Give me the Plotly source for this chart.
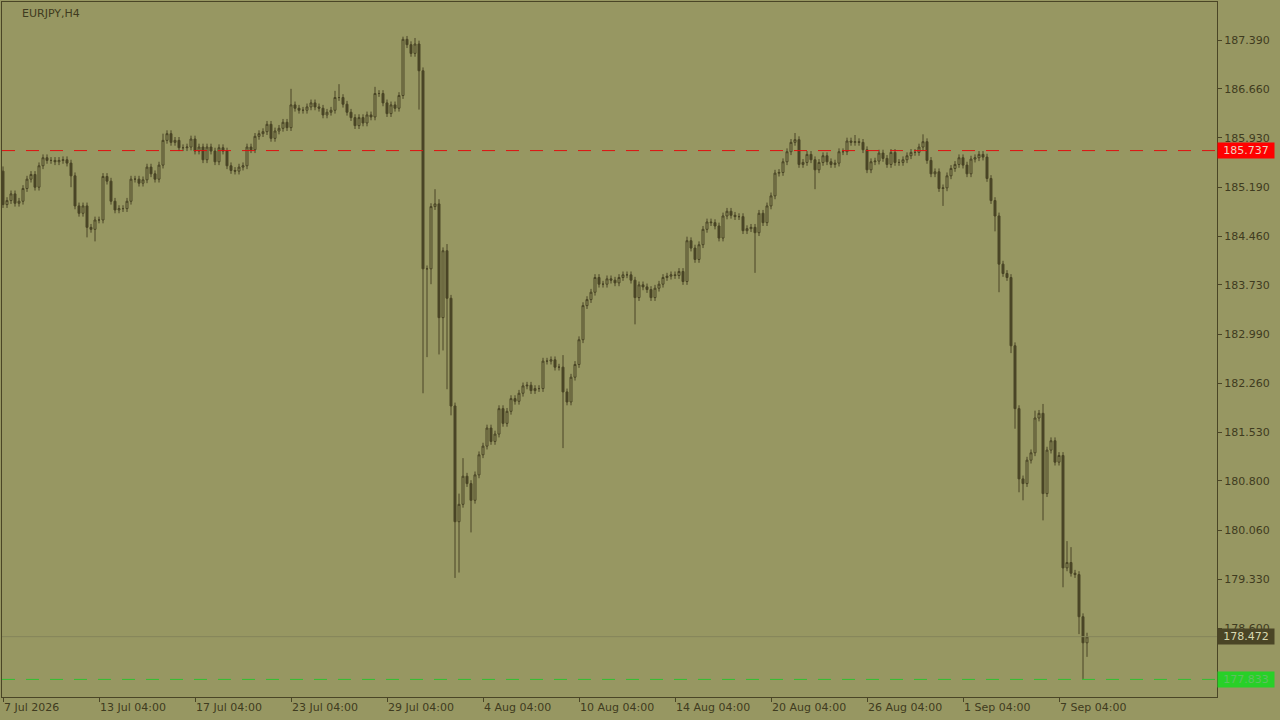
import plotly.graph_objects as go

symbol = "EURJPY,H4"
first_open = 185.43
closes = [
 184.93,184.99,185.09,184.95,184.98,185.17,185.31,185.38,185.19,185.51,
 185.63,185.59,185.59,185.57,185.59,185.60,185.55,185.36,184.91,184.80,
 184.91,184.59,184.56,184.70,184.70,185.35,185.28,184.98,184.85,184.87,
 184.87,184.98,185.31,185.31,185.25,185.30,185.49,185.39,185.31,185.52,
 185.89,185.99,185.86,185.89,185.78,185.78,185.79,185.91,185.73,185.79,
 185.60,185.79,185.73,185.57,185.78,185.73,185.51,185.44,185.43,185.49,
 185.51,185.79,185.75,185.95,185.99,186.02,186.13,185.92,186.03,186.07,
 186.16,186.08,186.42,186.37,186.34,186.34,186.39,186.45,186.39,186.37,
 186.27,186.31,186.34,186.53,186.53,186.43,186.31,186.23,186.11,186.23,
 186.15,186.27,186.24,186.59,186.59,186.45,186.29,186.42,186.37,186.56,
 187.40,187.32,187.19,187.33,186.93,183.97,183.97,184.90,184.94,183.24,
 184.24,183.53,181.92,180.19,180.45,180.87,180.76,180.51,180.89,181.19,
 181.32,181.59,181.39,181.50,181.88,181.66,181.84,182.03,181.99,182.11,
 182.22,182.23,182.15,182.18,182.18,182.59,182.59,182.61,182.50,182.50,
 182.13,181.98,182.35,182.54,182.91,183.42,183.51,183.62,183.84,183.74,
 183.74,183.82,183.80,183.76,183.84,183.88,183.88,183.80,183.54,183.73,
 183.70,183.66,183.54,183.68,183.74,183.84,183.86,183.88,183.87,183.93,
 183.78,184.39,184.28,184.11,184.33,184.56,184.67,184.66,184.61,184.43,
 184.76,184.83,184.77,184.75,184.75,184.54,184.57,184.59,184.51,184.80,
 184.66,184.91,185.06,185.40,185.41,185.57,185.72,185.86,185.90,185.53,
 185.56,185.68,185.60,185.45,185.56,185.66,185.57,185.53,185.55,185.72,
 185.72,185.88,185.86,185.87,185.86,185.75,185.45,185.57,185.58,185.70,
 185.62,185.53,185.71,185.56,185.56,185.60,185.66,185.71,185.71,185.79,
 185.87,185.59,185.39,185.42,185.17,185.18,185.36,185.47,185.53,185.63,
 185.52,185.39,185.61,185.63,185.68,185.64,185.32,184.99,184.76,184.04,
 183.90,183.84,182.82,181.88,180.83,180.76,181.11,181.22,181.74,181.81,
 180.61,181.26,181.40,181.08,181.18,179.50,179.58,179.42,179.40,178.77,
 178.38,178.47,
]
wick_highs = {0: 185.50, 40: 185.99, 72: 186.66, 83: 186.63, 84: 186.73, 93: 186.69,
              100: 187.44, 103: 187.42, 108: 185.16, 109: 185.01, 111: 184.34,
              114: 180.61, 115: 181.14, 140: 182.68, 171: 184.45, 198: 186.00,
              213: 185.97, 230: 185.98, 258: 181.85, 260: 181.95, 266: 179.90,
              267: 179.81, 271: 178.53}
wick_lows = {17: 185.19, 21: 184.44, 23: 184.38, 104: 186.35, 105: 182.11, 106: 182.65,
             107: 183.74, 109: 182.69, 110: 182.75, 111: 182.17, 112: 181.78,
             113: 179.35, 114: 179.43, 117: 180.03, 140: 181.29, 158: 183.14,
             188: 183.91, 203: 185.16, 235: 184.91, 248: 184.53, 249: 183.62,
             252: 182.71, 253: 181.58, 254: 180.63, 255: 180.51, 260: 180.21,
             265: 179.21, 269: 178.51, 270: 177.84, 271: 178.17}
date_ticks = [0, 24, 48, 72, 96, 120, 144, 168, 192, 216, 240, 264]
date_labels = ["7 Jul 2026", "13 Jul 04:00", "17 Jul 04:00", "23 Jul 04:00", "29 Jul 04:00",
               "4 Aug 04:00", "10 Aug 04:00", "14 Aug 04:00", "20 Aug 04:00", "26 Aug 04:00",
               "1 Sep 04:00", "7 Sep 04:00"]
price_ticks = [187.39, 186.66, 185.93, 185.19, 184.46, 183.73, 182.99, 182.26,
               181.53, 180.80, 180.06, 179.33, 178.60]
ask_line = 185.737
bid_price = 178.472
low_line = 177.833

opens = [first_open] + closes[:-1]
default_wick = 0.05
highs, lows = [], []
for i, (o, c) in enumerate(zip(opens, closes)):
    highs.append(wick_highs.get(i, max(o, c) + default_wick))
    lows.append(wick_lows.get(i, min(o, c) - default_wick))
xs = list(range(len(closes)))

BG = "#979762"
DARK = "#4a4526"
FONT = dict(family="DejaVu Sans", size=11, color="#3f3b20")

fig = go.Figure(go.Candlestick(
    x=xs, open=opens, high=highs, low=lows, close=closes,
    increasing=dict(line=dict(color=DARK, width=1), fillcolor=BG),
    decreasing=dict(line=dict(color=DARK, width=1), fillcolor=DARK),
    whiskerwidth=0, showlegend=False, hoverinfo="skip"))

fig.add_hline(y=ask_line, line=dict(color="#e01010", width=1, dash="13px,11px"))
fig.add_hline(y=low_line, line=dict(color="#30c030", width=1, dash="13px,11px"))
fig.add_hline(y=bid_price, line=dict(color="#85855a", width=1))

for val, bg, fc in [(ask_line, "#ff0000", "#f0d0c0"), (bid_price, "#4a4526", "#d8d8b0"),
                    (low_line, "#28d028", "#60c060")]:
    fig.add_annotation(x=1.0, xref="paper", y=val, yref="y", text=f"{val:.3f}",
                       showarrow=False, xanchor="left", xshift=0, bgcolor=bg,
                       font=dict(family="DejaVu Sans", size=11, color=fc),
                       borderpad=1, width=54, align="center")

for t, lab in zip(date_ticks, date_labels):
    fig.add_annotation(x=t, y=0, yref="paper", text=lab, showarrow=False,
                       xanchor="left", yanchor="top", yshift=-2, xshift=-1, font=FONT)

fig.add_annotation(x=0, xref="paper", y=1, yref="paper", text=symbol, showarrow=False,
                   xanchor="left", yanchor="top", xshift=18, yshift=-3, font=FONT)

fig.update_layout(
    width=1280, height=720, paper_bgcolor=BG, plot_bgcolor=BG,
    margin=dict(l=2, r=63, t=2, b=23, autoexpand=False),
    xaxis=dict(range=[-0.25, 303.5], rangeslider=dict(visible=False), showgrid=False,
               zeroline=False, tickvals=date_ticks, ticktext=[""] * len(date_ticks),
               ticks="outside", ticklen=4, tickcolor=DARK, showline=True, linecolor=DARK,
               mirror=True),
    yaxis=dict(range=[177.57, 187.958], side="right", showgrid=False, zeroline=False,
               tickvals=price_ticks, ticktext=[f"{v:.3f}" for v in price_ticks],
               ticks="outside", ticklen=4, tickcolor=DARK, showline=True, linecolor=DARK,
               mirror=True, tickfont=FONT),
)
fig.write_html("out.html", config={"displayModeBar": False},
               post_script="document.body.style.margin='0';document.body.style.background='%s';" % BG)
